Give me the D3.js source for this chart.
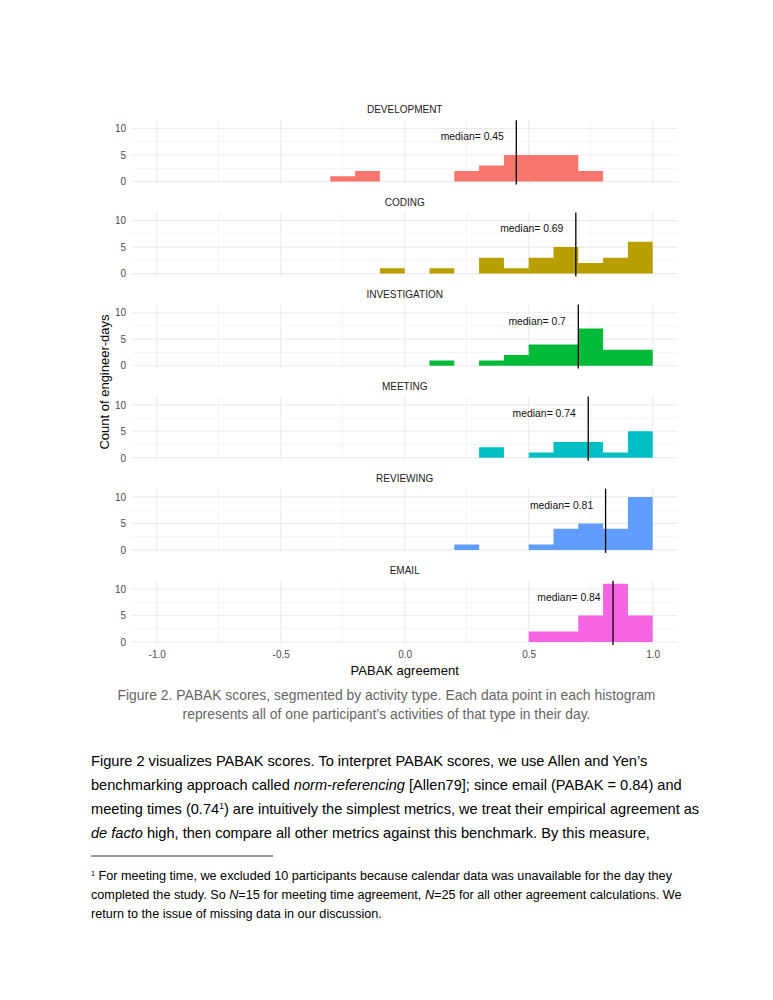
<!DOCTYPE html>
<html>
<head>
<meta charset="utf-8">
<script src="https://cdn.jsdelivr.net/npm/d3@7"></script>
<style>
  body { margin: 0; background: #fff; }
  svg { display: block; font-family: "Liberation Sans", Arial, sans-serif; }
</style>
</head>
<body>
<svg id="page" width="773" height="1000"></svg>
<script>
const activities = ['DEVELOPMENT', 'CODING', 'INVESTIGATION', 'MEETING', 'REVIEWING', 'EMAIL'];
const colors = ['#F8766D', '#B79F00', '#00BA38', '#00BFC4', '#619CFF', '#F564E3'];
const medians = [0.45, 0.69, 0.7, 0.74, 0.81, 0.84];

// histogram bins of width 0.1, lower edges
const binStarts = [-0.3, -0.2, -0.1, 0.0, 0.1, 0.2, 0.3, 0.4, 0.5, 0.6, 0.7, 0.8, 0.9];
const BIN_WIDTH = 0.1;

const development   = [1, 2, 0, 0, 0, 2, 3, 5, 5, 5, 2, 0, 0];
const coding        = [0, 0, 1, 0, 1, 0, 3, 1, 3, 5, 2, 3, 6];
const investigation = [0, 0, 0, 0, 1, 0, 1, 2, 4, 4, 7, 3, 3];
const meeting       = [0, 0, 0, 0, 0, 0, 2, 0, 1, 3, 3, 1, 5];
const reviewing     = [0, 0, 0, 0, 0, 1, 0, 0, 1, 4, 5, 4, 10];
const email         = [0, 0, 0, 0, 0, 0, 0, 0, 2, 2, 5, 11, 5];
const counts = [development, coding, investigation, meeting, reviewing, email];

const xTicks = [-1, -0.5, 0, 0.5, 1];
const xMinor = [-0.75, -0.25, 0.25, 0.75];
const yTicks = [0, 5, 10];
const yMinor = [2.5, 7.5];

const FIRST_BASE = 181.5, PANEL_STEP = 92.1, PX_PER_COUNT = 5.3;
const GRID = '#ebebeb';

const svg = d3.select('#page');
svg.append('rect').attr('width', 773).attr('height', 1000).attr('fill', '#fff');

const x = d3.scaleLinear().domain([-1.1, 1.1]).range([131.9, 677.5]);

activities.forEach((name, i) => {
	const base = FIRST_BASE + i * PANEL_STEP;
	const y = d3.scaleLinear()
		.domain([-0.55, 11.55])
		.range([base + 0.55 * PX_PER_COUNT, base - 11.55 * PX_PER_COUNT]);
	const top = y.range()[1], bottom = y.range()[0];
	const g = svg.append('g');

	// gridlines
	g.selectAll('.ym').data(yMinor).join('line')
		.attr('x1', x.range()[0]).attr('x2', x.range()[1])
		.attr('y1', d => y(d)).attr('y2', d => y(d))
		.attr('stroke', '#f1f1f1').attr('stroke-width', 0.7);
	g.selectAll('.xm').data(xMinor).join('line')
		.attr('y1', top).attr('y2', bottom)
		.attr('x1', d => x(d)).attr('x2', d => x(d))
		.attr('stroke', '#f1f1f1').attr('stroke-width', 0.7);
	g.selectAll('.yM').data(yTicks).join('line')
		.attr('x1', x.range()[0]).attr('x2', x.range()[1])
		.attr('y1', d => y(d)).attr('y2', d => y(d))
		.attr('stroke', GRID).attr('stroke-width', 1.1);
	g.selectAll('.xM').data(xTicks).join('line')
		.attr('y1', top).attr('y2', bottom)
		.attr('x1', d => x(d)).attr('x2', d => x(d))
		.attr('stroke', GRID).attr('stroke-width', 1.1);

	// histogram as one stepped area
	const pts = binStarts.map((b, k) => [b, counts[i][k]]);
	pts.push([binStarts[binStarts.length - 1] + BIN_WIDTH, 0]);
	g.append('path')
		.datum(pts)
		.attr('fill', colors[i])
		.attr('d', d3.area()
			.curve(d3.curveStepAfter)
			.x(d => x(d[0]))
			.y0(y(0))
			.y1(d => y(d[1])));

	// median
	g.append('line')
		.attr('x1', x(medians[i])).attr('x2', x(medians[i]))
		.attr('y1', top).attr('y2', bottom)
		.attr('stroke', '#000').attr('stroke-width', 1.3);
	g.append('text')
		.attr('x', x(medians[i] - 0.05))
		.attr('y', y(8.45))
		.attr('dy', '0.35em')
		.attr('text-anchor', 'end')
		.attr('font-size', 10.4)
		.attr('fill', '#111')
		.text('median= ' + medians[i]);

	// strip title
	g.append('text')
		.attr('x', x(0))
		.attr('y', top - 10.3)
		.attr('dy', '0.35em')
		.attr('text-anchor', 'middle')
		.attr('font-size', 10)
		.attr('fill', '#1a1a1a')
		.text(name);

	// y axis
	const ya = g.append('g')
		.attr('transform', 'translate(126,0)')
		.call(d3.axisLeft(y).tickValues(yTicks).tickSize(0).tickPadding(0));
	ya.select('.domain').remove();
	ya.selectAll('text').attr('font-size', 10).attr('fill', '#4d4d4d')
		.attr('font-family', '"Liberation Sans", Arial, sans-serif');
});

// x axis at the bottom panel
const lastBottom = FIRST_BASE + 5 * PANEL_STEP + 0.55 * PX_PER_COUNT;
const xa = svg.append('g')
	.attr('transform', `translate(0,${lastBottom})`)
	.call(d3.axisBottom(x).tickValues(xTicks).tickSize(0).tickPadding(5.5));
xa.select('.domain').remove();
xa.selectAll('text').attr('font-size', 10).attr('fill', '#4d4d4d')
	.attr('font-family', '"Liberation Sans", Arial, sans-serif')
	.text(d => d3.format('.1f')(d).replace('\u2212', '-'));

svg.append('text')
	.attr('x', x(0)).attr('y', 670.7).attr('dy', '0.35em')
	.attr('text-anchor', 'middle').attr('font-size', 13).attr('fill', '#000')
	.text('PABAK agreement');

svg.append('text')
	.attr('transform', 'translate(104,382) rotate(-90)')
	.attr('dy', '0.35em')
	.attr('text-anchor', 'middle').attr('font-size', 13).attr('fill', '#000')
	.text('Count of engineer-days');

// caption
const caption = [
	'Figure 2. PABAK scores, segmented by activity type. Each data point in each histogram',
	'represents all of one participant\u2019s activities of that type in their day.'
];
svg.selectAll('.cap').data(caption).join('text')
	.attr('x', 386.5).attr('y', (d, k) => 700 + k * 19)
	.attr('text-anchor', 'middle').attr('font-size', 13.9).attr('fill', '#666')
	.text(d => d);

// body paragraph: arrays of [text, style]
const body = [
	[['Figure 2 visualizes PABAK scores. To interpret PABAK scores, we use Allen and Yen\u2019s', '']],
	[['benchmarking approach called ', ''], ['norm-referencing', 'i'], [' [Allen79]; since email (PABAK = 0.84) and', '']],
	[['meeting times (0.74', ''], ['1', 'sup'], [') are intuitively the simplest metrics, we treat their empirical agreement as', '']],
	[['de facto', 'i'], [' high, then compare all other metrics against this benchmark. By this measure,', '']]
];
function writeLines(lines, x0, y0, step, size) {
	lines.forEach((parts, k) => {
		const t = svg.append('text').attr('x', x0).attr('y', y0 + k * step)
			.attr('font-size', size).attr('fill', '#000');
		parts.forEach(([s, st]) => {
			const sp = t.append('tspan').text(s);
			if (st === 'i') sp.attr('font-style', 'italic');
			if (st === 'sup') sp.attr('font-size', size * 0.58).attr('baseline-shift', '0.55em');
		});
	});
}
writeLines(body, 91, 766, 24, 14.6);

svg.append('line').attr('x1', 91).attr('x2', 273).attr('y1', 856).attr('y2', 856)
	.attr('stroke', '#000').attr('stroke-width', 0.8);

const footnote = [
	[['1', 'sup'], [' For meeting time, we excluded 10 participants because calendar data was unavailable for the day they', '']],
	[['completed the study. So ', ''], ['N', 'i'], ['=15 for meeting time agreement, ', ''], ['N', 'i'], ['=25 for all other agreement calculations. We', '']],
	[['return to the issue of missing data in our discussion.', '']]
];
writeLines(footnote, 91, 880, 19, 12.65);
</script>
</body>
</html>
